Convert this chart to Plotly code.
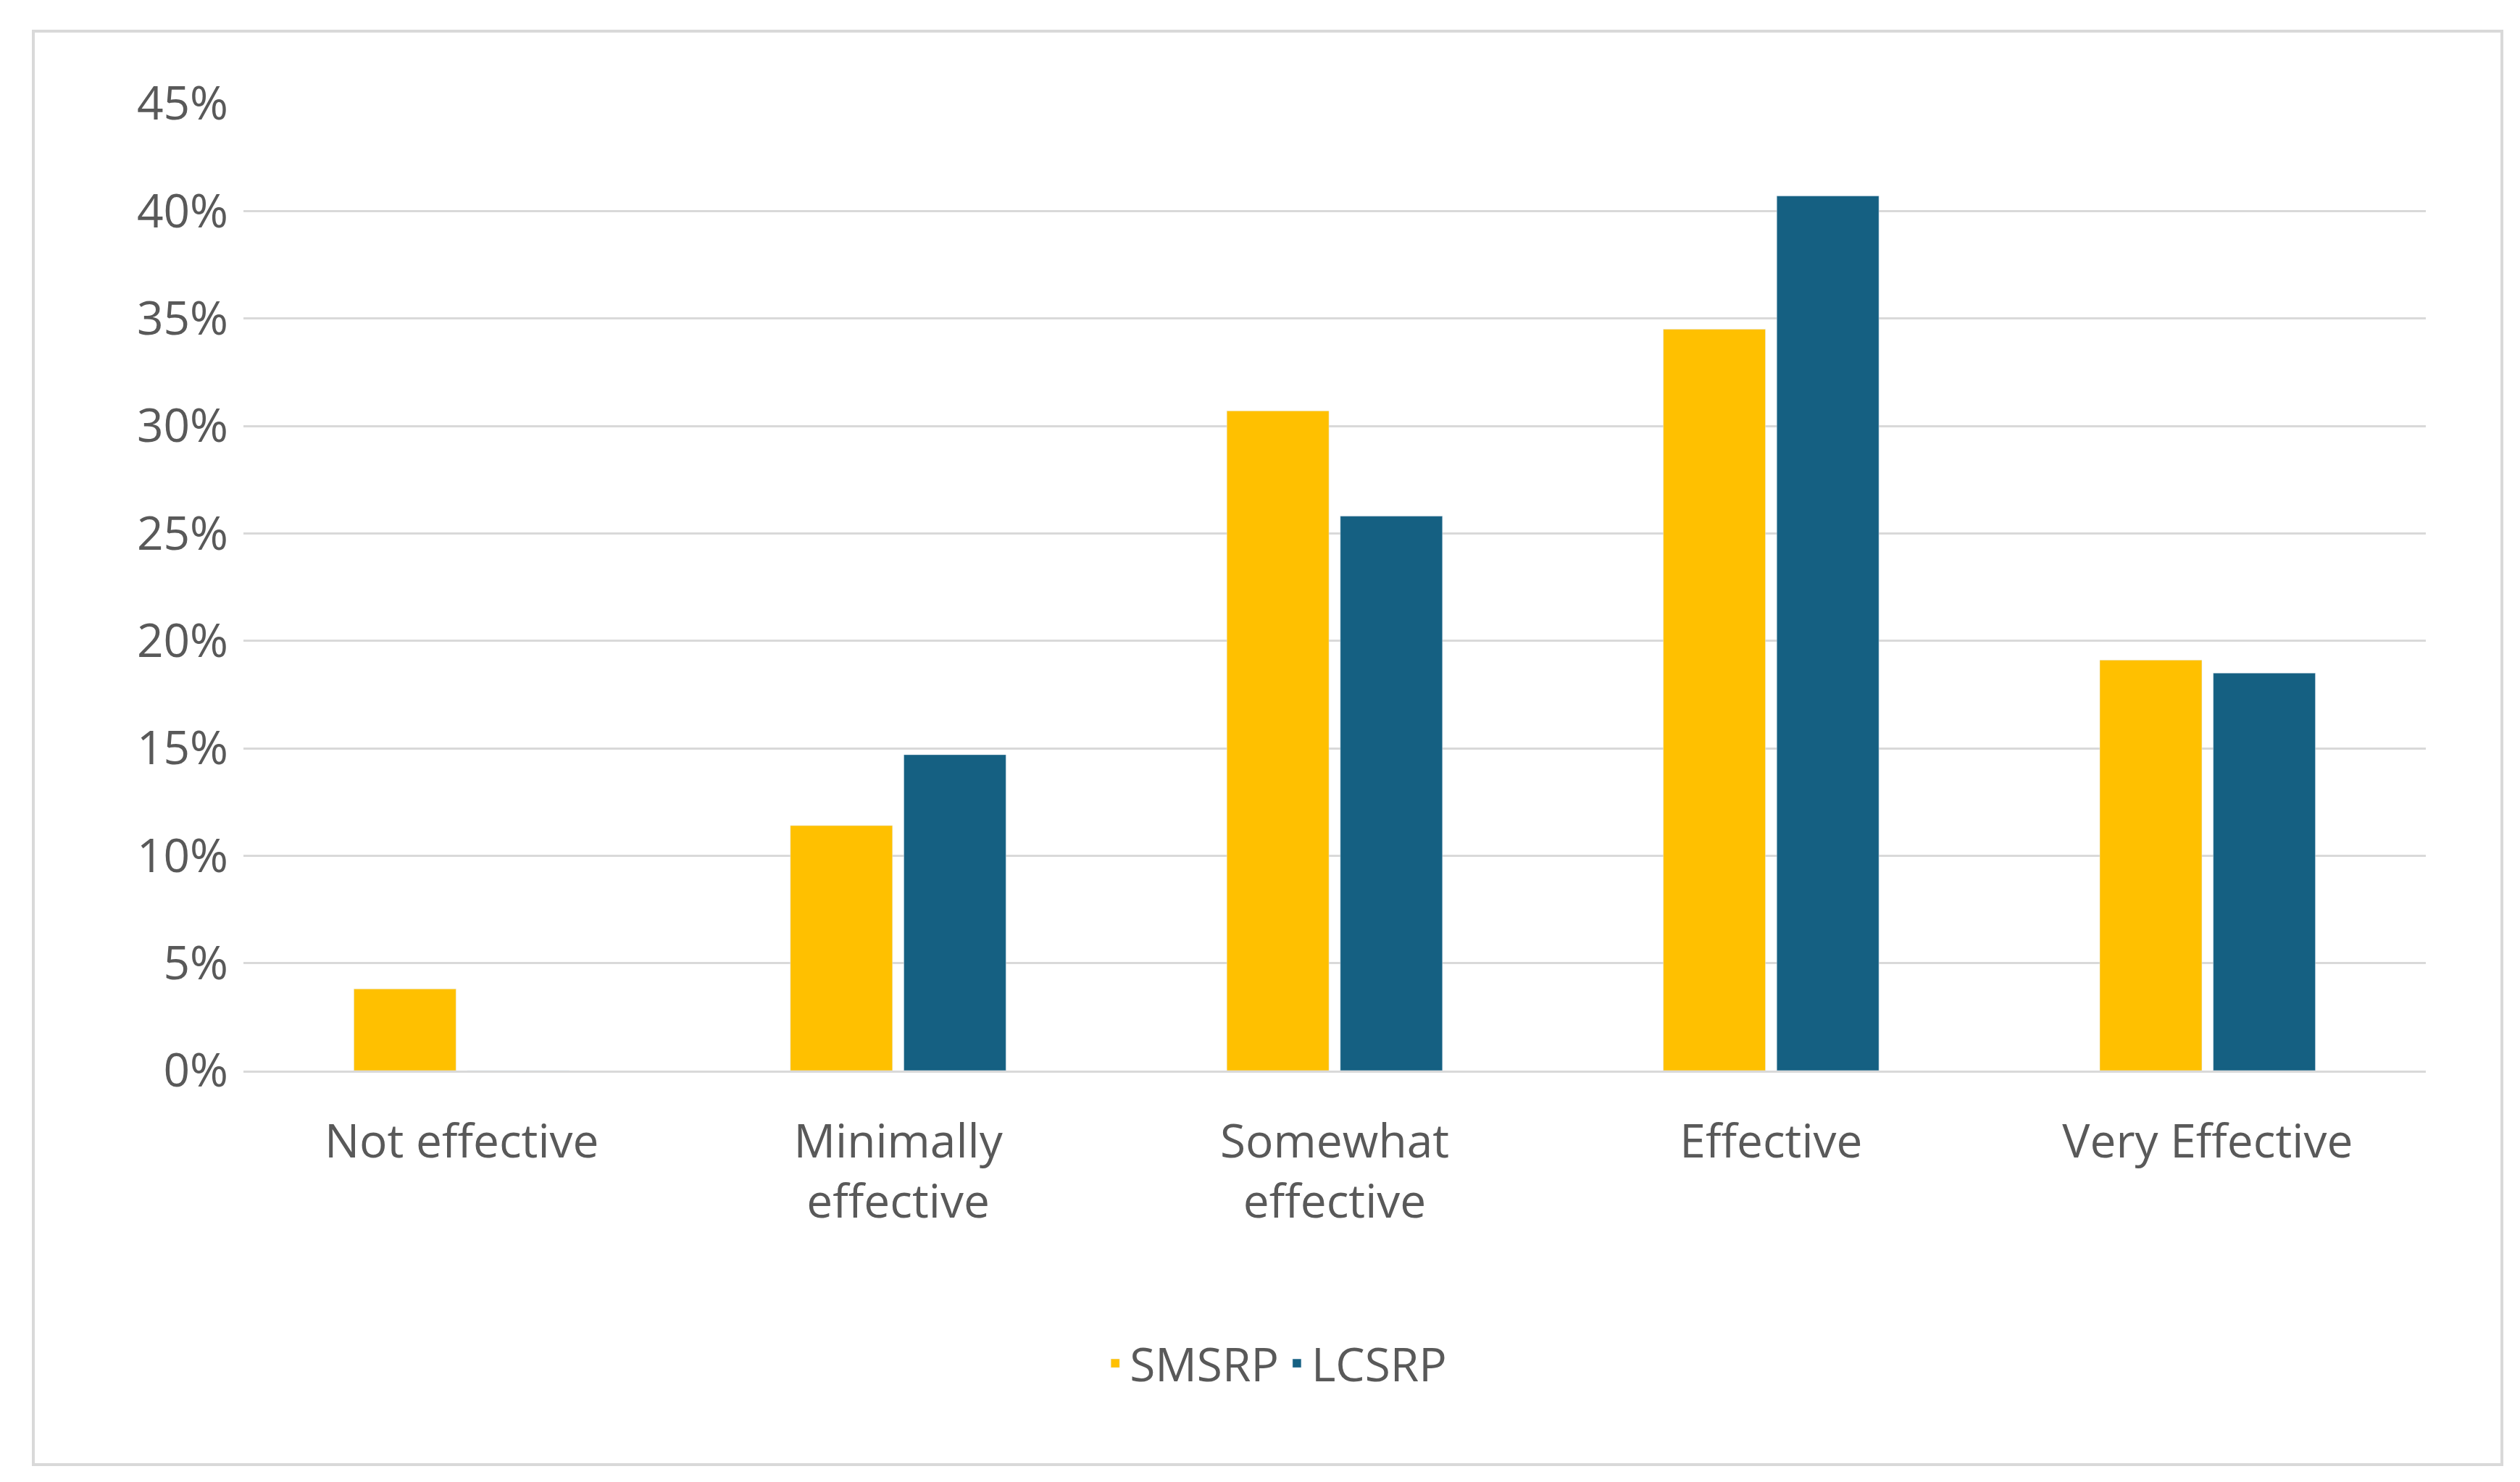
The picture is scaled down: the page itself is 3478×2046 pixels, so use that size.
import plotly.graph_objects as go

categories = ["Not effective", "Minimally<br>effective", "Somewhat<br>effective", "Effective", "Very Effective"]
smsrp = [3.8, 11.4, 30.7, 34.5, 19.1]
lcsrp = [0, 14.7, 25.8, 40.7, 18.5]

W, H = 3478, 2046
L, R, T, B = 328, 138, 135, 576
pw, ph = W - L - R, H - T - B

fig = go.Figure()
fig.add_trace(go.Bar(x=categories, y=smsrp, name="SMSRP", marker_color="#FFC000"))
fig.add_trace(go.Bar(x=categories, y=lcsrp, name="LCSRP", marker_color="#156082"))

font = dict(family="Open Sans, Liberation Sans, sans-serif", size=64, color="#595959")
fig.update_layout(
    width=W, height=H,
    margin=dict(l=L, r=R, t=T, b=B),
    paper_bgcolor="white", plot_bgcolor="white",
    font=font,
    barmode="group", bargap=0.48, bargroupgap=0.1,
    legend=dict(orientation="h", x=0.473, xanchor="center", y=-0.303, yanchor="middle",
                font=font, itemwidth=30),
    xaxis=dict(showline=True, linecolor="#d9d9d9", linewidth=3, ticks="",
               ticklabelstandoff=40),
    yaxis=dict(range=[0, 45], dtick=5, ticksuffix="%", showgrid=True, gridcolor="#d9d9d9",
               gridwidth=3, zeroline=False, ticklabelstandoff=20),
)
fig.add_shape(type="rect", xref="paper", yref="paper",
              x0=(38 - L) / pw, x1=(3445 - L) / pw,
              y0=(H - B - 2014) / ph, y1=(H - B - 35) / ph,
              line=dict(color="#d9d9d9", width=4))

fig.write_html("out.html")
